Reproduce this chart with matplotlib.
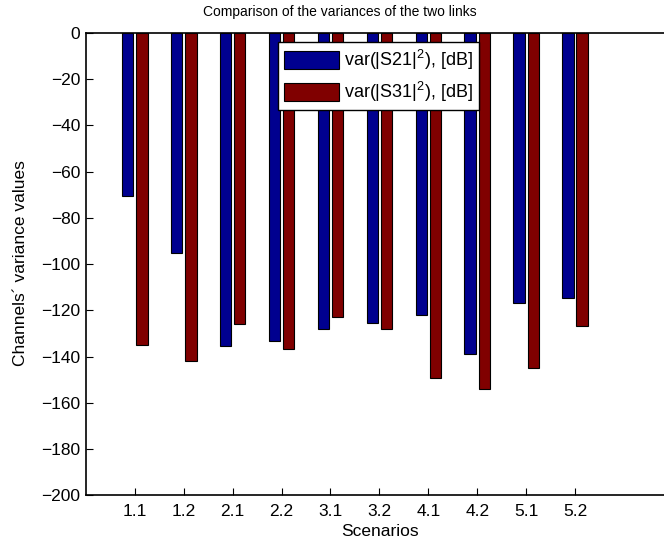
import matplotlib
matplotlib.use('Agg')
import matplotlib.pyplot as plt
import numpy as np

scenarios = ['1.1', '1.2', '2.1', '2.2', '3.1', '3.2', '4.1', '4.2', '5.1', '5.2']
var_s21 = [-70.7, -95.2, -135.5, -133.2, -128.0, -125.4, -121.8, -138.8, -116.9, -114.6]
var_s31 = [-135.1, -142.1, -126.1, -136.6, -122.7, -128.2, -149.2, -153.9, -145.0, -126.6]
series_labels = [r'var(|S21|$^{2}$), [dB]', r'var(|S31|$^{2}$), [dB]']

plt.rcParams['font.family'] = ['Liberation Sans', 'DejaVu Sans']
plt.rcParams['mathtext.fontset'] = 'custom'
plt.rcParams['mathtext.rm'] = 'Liberation Sans'
plt.rcParams['mathtext.it'] = 'Liberation Sans'

W, H = 664, 548
fig = plt.figure(figsize=(W / 100, H / 100), dpi=100)
left, top, bottom = 86, 33, 495.3
unit = 48.9
xmax = 12
ax = fig.add_axes([left / W, (H - bottom) / H, unit * xmax / W, (bottom - top) / H])

x = np.arange(1, len(scenarios) + 1)
ax.bar(x - 0.145, var_s21, 0.232, color='#00008F', edgecolor='black', linewidth=0.8,
       label=series_labels[0], zorder=2)
ax.bar(x + 0.145, var_s31, 0.232, color='#800000', edgecolor='black', linewidth=0.8,
       label=series_labels[1], zorder=2)

ax.set_xlim(0, xmax)
ax.set_ylim(-200, 0)
ax.set_xticks(x)
ax.set_xticklabels(scenarios)
ax.set_yticks(np.arange(-200, 1, 20))
ax.tick_params(direction='in', length=5, width=0.8, labelsize=12.5, top=False, right=False)
ax.tick_params(axis='x', pad=6)
ax.tick_params(axis='y', pad=4)
for s in ax.spines.values():
    s.set_linewidth(1.2)
ax.spines['top'].set_zorder(3)

fs_leg = 13
px = fs_leg * 100 / 72
leg = ax.legend(loc='upper left', bbox_to_anchor=(278.3 / W, 1 - 42.3 / H),
                bbox_transform=fig.transFigure, borderaxespad=0, fancybox=False,
                edgecolor='black', framealpha=1, fontsize=fs_leg, handlelength=55 / px,
                handleheight=21 / px, labelspacing=7.4 / px, borderpad=6 / px,
                handletextpad=5 / px)
leg.get_frame().set_linewidth(1.0)
leg.set_zorder(5)

fig.text(340 / W, 1 - 12 / H, 'Comparison of the variances of the two links',
         ha='center', va='center', fontsize=10)
fig.text(379.5 / W, 1 - 531 / H, 'Scenarios', ha='center', va='center', fontsize=12.5)
fig.text(21 / W, 1 - 263 / H, 'Channels\u00b4 variance values', ha='center', va='center',
         rotation=90, fontsize=12.5)

fig.savefig('out.png', dpi=100)
